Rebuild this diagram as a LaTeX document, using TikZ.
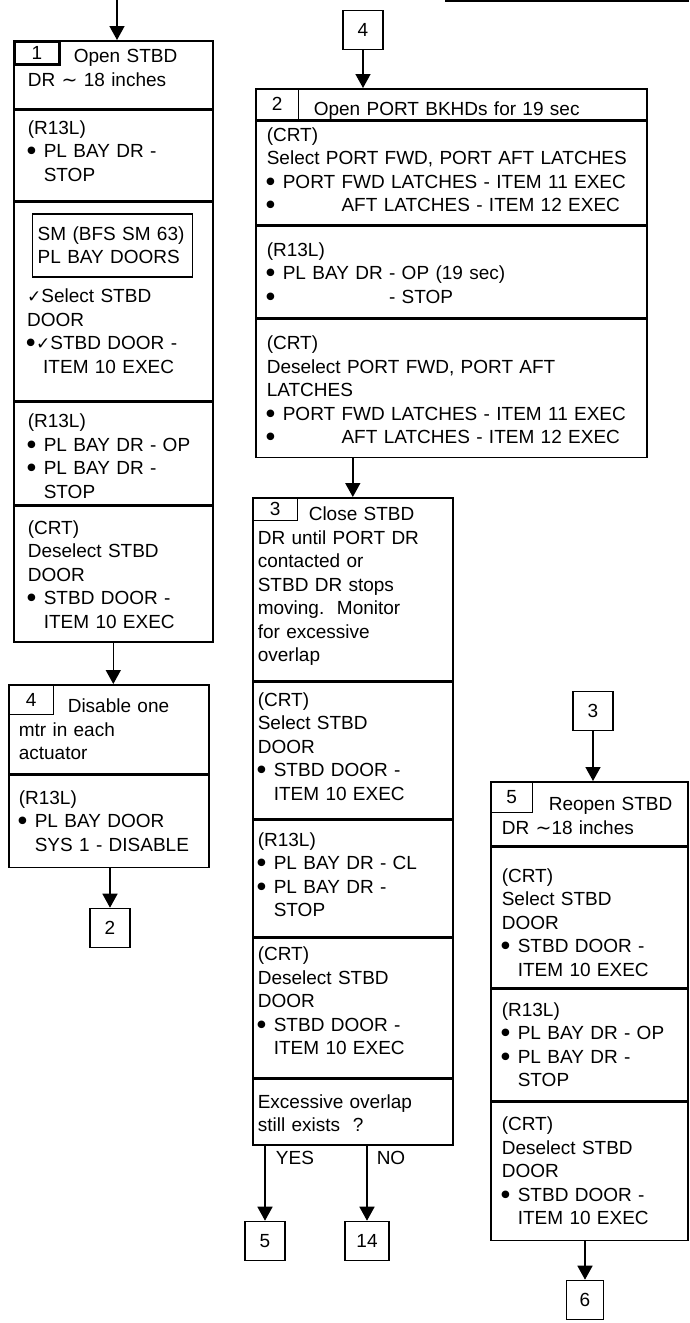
\documentclass[tikz,border=0pt]{standalone}
\usepackage{fontspec}
\setmainfont{Liberation Sans}
\newfontfamily\symf{DejaVu Sans}
\usetikzlibrary{arrows.meta,positioning}
\newcommand{\bdot}{\hspace*{-4pt}{\symf\fontsize{26}{23.5}\selectfont\raisebox{-3pt}{•}}}
\newcommand{\bul}{\makebox[16pt][l]{\bdot}}
\newcommand{\bgap}{\hspace*{16pt}}
\newcommand{\chk}{{\symf\fontsize{17}{23.5}\selectfont ✓}}
\newcommand{\appr}{{\symf ∼}}

\begin{document}
\begin{tikzpicture}[x=1pt,y=-1pt,font=\fontsize{19}{23.5}\selectfont,
  sect/.style={draw,line width=1.6pt,anchor=north west,align=left,inner ysep=0pt},
  sec/.code 2 args={\pgfmathsetmacro\secdp{#1-#2}%
    \pgfkeysalso{minimum height=#1pt,text height=#2pt,text depth/.expanded=\secdp pt}},
  c1/.style={sect,text width=171pt,inner xsep=14pt},
  c2/.style={sect,text width=369pt,inner xsep=11pt},
  c3/.style={sect,text width=190pt,inner xsep=5pt},
  c4/.style={sect,text width=180pt,inner xsep=10pt},
  c5/.style={sect,text width=175pt,inner xsep=11pt},
  tab/.style={draw,line width=1.4pt,anchor=north west,minimum width=45pt,minimum height=23pt,inner sep=0pt},
  goto/.style={draw,line width=1.6pt,minimum width=40pt,minimum height=39pt,inner sep=0pt},
  arr/.style={line width=1.6pt,-{Triangle[width=15pt,length=14pt]}}]
\useasboundingbox (0,0) rectangle (689,1323);
\draw[line width=2pt] (445,1) -- (689,1);
% step 1
\coordinate (in1) at (117,0);
\node[c1,sec={68}{22}] (h1) at (13,40) {\hspace*{46pt}Open STBD\\DR \appr\ 18 inches};
\node[tab,line width=2.6pt] (t1) at (h1.north west) {1};
\node[c1,sec={90}{24}] (s1b) at (h1.south west) {(R13L)\\\bul PL BAY DR -\\\bgap STOP};
\node[c1,sec={199}{20}] (s1c) at (s1b.south west) {};
\node[draw,line width=1.4pt,below right=12pt and 19pt of s1c.north west,text width=150pt,
      inner xsep=5pt,minimum height=63pt,align=left] (sm) {SM (BFS SM 63)\\PL BAY DOORS};
\node[anchor=north west,text width=171pt,inner xsep=14pt,inner ysep=0pt,align=left,yshift=-11pt]
  (s1t) at (s1c.west |- sm.south) {\chk Select STBD\\DOOR\\\makebox[9pt][l]{\bdot}\chk STBD DOOR -\\\bgap ITEM 10 EXEC};
\node[c1,sec={102}{25}] (s1d) at (s1c.south west) {(R13L)\\\bul PL BAY DR - OP\\\bul PL BAY DR -\\\bgap STOP};
\node[c1,sec={136}{28}] (s1e) at (s1d.south west) {(CRT)\\Deselect STBD\\DOOR\\\bul STBD DOOR -\\\bgap ITEM 10 EXEC};
% step 4
\node[c4,sec={89}{28}] (h4) at (8,684) {\hspace*{49pt}Disable one\\mtr in each\\actuator};
\node[tab,minimum height=30pt] (t4) at (h4.north west) {4};
\node[c4,sec={92}{29}] (s4b) at (h4.south west) {(R13L)\\\bul PL BAY DOOR\\\bgap SYS 1 - DISABLE};
\node[goto] (g2) at (110,928) {2};
% step 2
\node[goto] (g4) at (363,30) {4};
\node[c2,sec={31}{27}] (h2) at (255,88) {\hspace*{47pt}Open PORT BKHDs for 19 sec};
\node[tab,minimum width=43pt,minimum height=31pt] (t2) at (h2.north west) {2};
\node[c2,sec={103}{20}] (s2b) at (h2.south west) {(CRT)\\Select PORT FWD, PORT AFT LATCHES\\\bul PORT FWD LATCHES - ITEM 11 EXEC\\\bul\phantom{PORT }AFT LATCHES - ITEM 12 EXEC};
\node[c2,sec={92}{30}] (s2c) at (s2b.south west) {(R13L)\\\bul PL BAY DR - OP (19 sec)\\\bul\phantom{PL BAY DR }- STOP};
\node[c2,sec={138}{30}] (s2d) at (s2c.south west) {(CRT)\\Deselect PORT FWD, PORT AFT\\LATCHES\\\bul PORT FWD LATCHES - ITEM 11 EXEC\\\bul\phantom{PORT }AFT LATCHES - ITEM 12 EXEC};
% step 3
\node[c3,sec={183}{23}] (h3) at (252,497) {\hspace*{51pt}Close STBD\\DR until PORT DR\\contacted or\\STBD DR stops\\moving.\ \ Monitor\\for excessive\\overlap};
\node[tab] (t3) at (h3.north west) {3};
\node[c3,sec={136}{24}] (s3b) at (h3.south west) {(CRT)\\Select STBD\\DOOR\\\bul STBD DOOR -\\\bgap ITEM 10 EXEC};
\node[c3,sec={117}{26}] (s3c) at (s3b.south west) {(R13L)\\\bul PL BAY DR - CL\\\bul PL BAY DR -\\\bgap STOP};
\node[c3,sec={139}{22}] (s3d) at (s3c.south west) {(CRT)\\Deselect STBD\\DOOR\\\bul STBD DOOR -\\\bgap ITEM 10 EXEC};
\node[c3,sec={66}{29}] (s3e) at (s3d.south west) {Excessive overlap\\still exists\ \ ?};
\node[goto] (g5) at (265,1241) {5};
\node[goto,minimum width=44pt] (g14) at (367,1241) {14};
\node (yes) at (295,1158) {YES};
\node (no) at (391,1158) {NO};
% step 5
\node[goto] (g3) at (593,711) {3};
\node[c5,sec={64}{29}] (h5) at (490,781) {\hspace*{47pt}Reopen STBD\\DR \appr 18 inches};
\node[tab,minimum width=42pt,minimum height=31pt] (t5) at (h5.north west) {5};
\node[c5,sec={140}{35}] (s5b) at (h5.south west) {(CRT)\\Select STBD\\DOOR\\\bul STBD DOOR -\\\bgap ITEM 10 EXEC};
\node[c5,sec={112}{27}] (s5c) at (s5b.south west) {(R13L)\\\bul PL BAY DR - OP\\\bul PL BAY DR -\\\bgap STOP};
\node[c5,sec={138}{28}] (s5d) at (s5c.south west) {(CRT)\\Deselect STBD\\DOOR\\\bul STBD DOOR -\\\bgap ITEM 10 EXEC};
\node[goto,minimum width=37pt] (g6) at (585,1300) {6};
% connectors
\draw[arr] (in1) -- (in1 |- h1.north);
\draw[arr] (s1e.south) -- (s1e.south |- h4.north);
\draw[arr] (g2 |- s4b.south) -- (g2);
\draw[arr] (g4) -- (g4 |- h2.north);
\draw[arr] (h3.north |- s2d.south) -- (h3.north);
\draw[arr] (g5 |- s3e.south) -- (g5);
\draw[arr] (g14 |- s3e.south) -- (g14);
\draw[arr] (g3) -- (g3 |- h5.north);
\draw[arr] (g6 |- s5d.south) -- (g6);
\end{tikzpicture}
\end{document}
